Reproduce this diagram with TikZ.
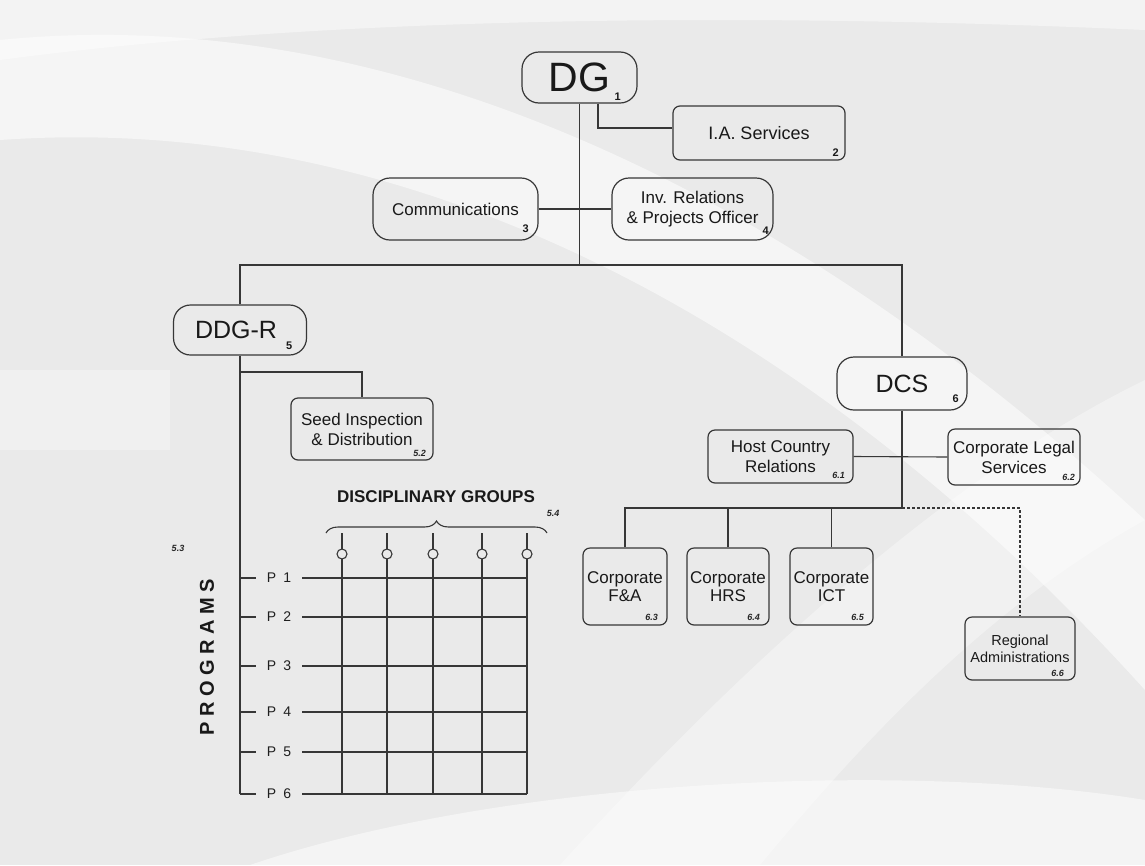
\documentclass[tikz,border=0pt]{standalone}
\usepackage{fontspec}
\setmainfont{Liberation Sans}
\usetikzlibrary{decorations.pathreplacing}

\definecolor{linegray}{RGB}{55,55,55}
\definecolor{bggray}{RGB}{234,234,234}

\begin{document}
\begin{tikzpicture}[x=1pt,y=-1pt,
	box/.style={draw=linegray, line width=1.2pt, rounded corners=7pt, inner sep=0pt, align=center, text=black!90, font=\fontsize{17}{20}\selectfont},
	headbox/.style={box, rounded corners=17pt},
	num/.style={inner sep=0pt, text=black!90, font=\fontsize{11}{11}\selectfont\bfseries},
	subnum/.style={inner sep=0pt, text=black!85, font=\fontsize{9}{9}\selectfont\bfseries\itshape},
	wire/.style={draw=linegray, line width=1.1pt},
	plabel/.style={inner sep=0pt, text=black!88, font=\fontsize{14}{14}\selectfont}]
	
	\useasboundingbox (0,0) rectangle (1145,865);
	
	% background
	\fill[bggray] (0,0) rectangle (1145,865);
	\fill[white,opacity=.55] (0,40) .. controls (400,0) and (800,200) .. (1145,520) -- (1145,690) .. controls (820,330) and (420,110) .. (0,140) -- cycle;
	\fill[white,opacity=.45] (0,0) -- (1145,0) -- (1145,30) .. controls (700,10) and (300,20) .. (0,60) -- cycle;
	\fill[white,opacity=.3] (0,370) rectangle (170,450);
	\fill[white,opacity=.5] (250,865) .. controls (500,780) and (900,760) .. (1145,800) -- (1145,865) -- cycle;
	\fill[white,opacity=.35] (560,865) .. controls (800,600) and (1000,450) .. (1145,380) -- (1145,520) .. controls (1000,600) and (880,720) .. (760,865) -- cycle;
	
	% boxes
	\node[headbox, minimum width=115pt, minimum height=51pt, font=\fontsize{41}{41}\selectfont] (dg) at (579.5,77.5) {DG};
	\node[box, minimum width=172pt, minimum height=54pt, font=\fontsize{18}{20}\selectfont] (ia) at (759,133) {I.A. Services};
	\node[headbox, minimum width=165pt, minimum height=62pt] (comm) at (455.5,209) {Communications};
	\node[headbox, minimum width=161pt, minimum height=62pt] (inv) at (692.5,209) {Inv. Relations\\\& Projects Officer};
	\node[headbox, minimum width=133pt, minimum height=50pt, font=\fontsize{25}{25}\selectfont] (ddg) at (240,330) {DDG-R\hspace{8pt}};
	\node[box, minimum width=142pt, minimum height=62pt] (seed) at (362,429) {Seed Inspection\\\& Distribution};
	\node[headbox, minimum width=130pt, minimum height=53pt, font=\fontsize{25}{25}\selectfont] (dcs) at (902,383.5) {DCS};
	\node[box, minimum width=145pt, minimum height=53pt] (host) at (780.5,456.5) {Host Country\\Relations};
	\node[box, minimum width=132pt, minimum height=56pt] (legal) at (1014,457) {Corporate Legal\\Services};
	\node[box, minimum width=84pt, minimum height=77pt, font=\fontsize{17}{18}\selectfont] (fa) at (625,586.5) {Corporate\\F\&A};
	\node[box, minimum width=82pt, minimum height=77pt, font=\fontsize{17}{18}\selectfont] (hrs) at (728,586.5) {Corporate\\HRS};
	\node[box, minimum width=83pt, minimum height=77pt, font=\fontsize{17}{18}\selectfont] (ict) at (831.5,586.5) {Corporate\\ICT};
	\node[box, minimum width=110pt, minimum height=63pt, font=\fontsize{14.5}{17}\selectfont] (reg) at (1020,648.5) {Regional\\Administrations};
	
	% numbers
	\node[num] at ([xshift=-20pt,yshift=7pt]dg.south east) {1};
	\node[num] at ([xshift=-10pt,yshift=8pt]ia.south east) {2};
	\node[num] at ([xshift=-13pt,yshift=12pt]comm.south east) {3};
	\node[num] at ([xshift=-8pt,yshift=10pt]inv.south east) {4};
	\node[num] at ([xshift=-18pt,yshift=10pt]ddg.south east) {5};
	\node[num] at ([xshift=-12pt,yshift=12pt]dcs.south east) {6};
	\node[subnum] at ([xshift=-14pt,yshift=7pt]seed.south east) {5.2};
	\node[subnum] at ([xshift=-15pt,yshift=8pt]host.south east) {6.1};
	\node[subnum] at ([xshift=-12pt,yshift=8pt]legal.south east) {6.2};
	\node[subnum] at ([xshift=-16pt,yshift=8pt]fa.south east) {6.3};
	\node[subnum] at ([xshift=-16pt,yshift=8pt]hrs.south east) {6.4};
	\node[subnum] at ([xshift=-16pt,yshift=8pt]ict.south east) {6.5};
	\node[subnum] at ([xshift=-18pt,yshift=7pt]reg.south east) {6.6};
	
	% connectors
	\coordinate (hub) at (579.5,265);
	\coordinate (iabr) at (598,128);
	\coordinate (seedbr) at (240,372);
	\coordinate (cbus) at (902,508);
	\draw[wire] (dg.south) -- (hub);
	\draw[wire] (dg.south -| iabr) -- (iabr) -- (iabr -| ia.west);
	\draw[wire] (comm.east) -- (inv.west);
	\draw[wire] (ddg.north) |- (hub) -| (dcs.north);
	\draw[wire] (seedbr) -| (seed.north);
	\draw[wire] (dcs.south) -- (cbus);
	\draw[wire] (host.east) -- (legal.west);
	\draw[wire] (fa.north) |- (cbus);
	\draw[wire] (hrs.north) -- (hrs.north |- cbus);
	\draw[wire] (ict.north) -- (ict.north |- cbus);
	\draw[wire, dashed, dash pattern=on 3pt off 2pt] (cbus) -| (reg.north);
	
	% matrix
	\coordinate (spine) at (240,794);
	\draw[wire] (ddg.south) -- (spine);
	\foreach \i/\y in {1/578,2/617,3/666,4/712,5/752,6/794}{
		\node[plabel] (p\i) at (279,\y) {P\hspace{7pt}\i};
		\draw[wire] (240,\y) -- (256,\y);
		\draw[wire] (302,\y) -- (527,\y);
	}
	\foreach \x in {342,387,433,482,527}{
		\draw[wire] (\x,533) -- (\x,549);
		\draw[wire] (\x,554) circle (5pt);
		\draw[wire] (\x,559) -- (\x,794);
	}
	\draw[wire, decorate, decoration={brace, amplitude=12pt}] (326,533) -- (547,533);
	\node[inner sep=0pt, text=black!90, font=\fontsize{17}{17}\selectfont\bfseries] (dgroups) at (436,497) {DISCIPLINARY GROUPS};
	\node[subnum] at (553,513) {5.4};
	\node[subnum] at (178,548) {5.3};
	\node[inner sep=0pt, rotate=90, text=black!90, font=\fontsize{20}{20}\selectfont\bfseries] (progs) at (207,657) {P\hspace{5.5pt}R\hspace{5.5pt}O\hspace{5.5pt}G\hspace{5.5pt}R\hspace{5.5pt}A\hspace{5.5pt}M\hspace{5.5pt}S};
	
\end{tikzpicture}
\end{document}
